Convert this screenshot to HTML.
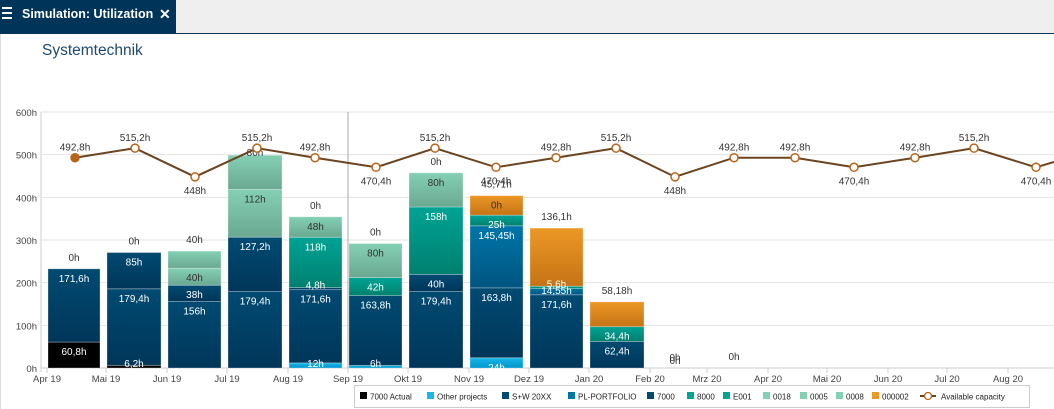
<!DOCTYPE html>
<html><head><meta charset="utf-8"><style>
body{margin:0;width:1054px;height:409px;overflow:hidden;background:#fff;font-family:"Liberation Sans",sans-serif}
</style></head><body>
<svg id="s" width="1054" height="409" xmlns="http://www.w3.org/2000/svg" style="position:absolute;left:0;top:0">
<defs>
<linearGradient id="nv" x1="0" y1="0" x2="0" y2="1"><stop offset="0" stop-color="#004a72"/><stop offset="1" stop-color="#003659"/></linearGradient>
<linearGradient id="bl" x1="0" y1="0" x2="0" y2="1"><stop offset="0" stop-color="#0075a8"/><stop offset="1" stop-color="#00557f"/></linearGradient>
<linearGradient id="tl" x1="0" y1="0" x2="0" y2="1"><stop offset="0" stop-color="#00a394"/><stop offset="1" stop-color="#00806f"/></linearGradient>
<linearGradient id="lg" x1="0" y1="0" x2="0" y2="1"><stop offset="0" stop-color="#84d0b4"/><stop offset="1" stop-color="#6aa892"/></linearGradient>
<linearGradient id="or" x1="0" y1="0" x2="0" y2="1"><stop offset="0" stop-color="#ec9826"/><stop offset="1" stop-color="#c57315"/></linearGradient>
<linearGradient id="lb" x1="0" y1="0" x2="0" y2="1"><stop offset="0" stop-color="#1ab6e8"/><stop offset="1" stop-color="#0096cc"/></linearGradient>
</defs>
<rect x="0" y="0" width="1054" height="33" fill="#efefef"/>
<rect x="0" y="0" width="176" height="34" fill="#003459"/>
<rect x="0" y="33" width="1054" height="1" fill="#003459"/>
<g fill="#fff"><rect x="2" y="7" width="10" height="2"/><rect x="2" y="12" width="10" height="2"/><rect x="2" y="17" width="10" height="2"/></g>
<text x="22" y="18" fill="#fff" font-size="12.5" font-weight="bold">Simulation: Utilization</text>
<text x="159" y="19" fill="#fff" font-size="14" font-weight="bold">✕</text>
<rect x="0" y="34" width="1" height="375" fill="#ddd"/>
<text x="42" y="55" fill="#1f4a70" font-size="15.5">Systemtechnik</text>
<g id="g"></g>
</svg>
<script>
(function(){
const g=document.getElementById('g');let h='',lbl='';
const Y=v=>368-v*0.4267;
for(let v=0;v<=600;v+=100){h+=`<line x1="41" x2="1054" y1="${Y(v)}" y2="${Y(v)}" stroke="#e2e2e2"/>`;h+=`<text x="37" y="${Y(v)+4}" font-size="9.5" fill="#444" text-anchor="end">${v}h</text>`;}
h+=`<line x1="41" x2="41" y1="112" y2="372" stroke="#ccc"/><line x1="41" x2="1054" y1="368" y2="368" stroke="#ccc"/>`;
h+=`<line x1="348" x2="348" y1="112" y2="368" stroke="#aaa"/>`;
const T=[47,106,167,227,288,348,408,469,529,589,650,707,768,827,888,947,1008,1068];
const L=['Apr 19','Mai 19','Jun 19','Jul 19','Aug 19','Sep 19','Okt 19','Nov 19','Dez 19','Jan 20','Feb 20','Mrz 20','Apr 20','Mai 20','Jun 20','Jul 20','Aug 20'];
L.forEach((l,i)=>{h+=`<line x1="${T[i]}" x2="${T[i]}" y1="368" y2="373" stroke="#ccc"/><text x="${T[i]}" y="382" font-size="9.5" fill="#444" text-anchor="middle">${l}</text>`});
const B=[
[[60.8,'#000','60,8h'],[171.6,'url(#nv)','171,6h']],
[[6.2,'#000','6,2h'],[179.4,'url(#nv)','179,4h'],[85,'url(#nv)','85h']],
[[156,'url(#nv)','156h'],[38,'url(#nv)','38h'],[40,'url(#lg)','40h'],[40,'url(#lg)','']],
[[179.4,'url(#nv)','179,4h'],[127.2,'url(#nv)','127,2h'],[112,'url(#lg)','112h'],[80,'url(#lg)','']],
[[12,'url(#lb)','12h'],[171.6,'url(#nv)','171,6h'],[4.8,'url(#nv)','4,8h'],[118,'url(#tl)','118h'],[48,'url(#lg)','48h']],
[[6,'url(#lb)','6h'],[163.8,'url(#nv)','163,8h'],[42,'url(#tl)','42h'],[80,'url(#lg)','80h']],
[[179.4,'url(#nv)','179,4h'],[40,'url(#nv)','40h'],[158,'url(#tl)','158h'],[80,'url(#lg)','80h']],
[[24,'url(#lb)','24h'],[163.8,'url(#nv)','163,8h'],[145.45,'url(#bl)','145,45h'],[25,'url(#tl)','25h'],[45.71,'url(#or)','0h']],
[[171.6,'url(#nv)','171,6h'],[14.55,'url(#bl)','14,55h'],[5.6,'url(#tl)','5,6h'],[136.1,'url(#or)','']],
[[62.4,'url(#nv)','62,4h'],[34.4,'url(#tl)','34,4h'],[58.18,'url(#or)','']]];
const tops=['0h','0h','40h','80h','0h','0h','0h','45,71h','136,1h','58,18h'];
B.forEach((b,i)=>{let x=T[i]+1,w=T[i+1]-T[i]-7,c=0;
b.forEach(s=>{let y1=Y(c+s[0]),y0=Y(c);h+=`<rect x="${x}" y="${y1}" width="${w}" height="${y0-y1}" fill="${s[1]}" stroke="rgba(255,255,255,0.35)" stroke-width="0.8"/>`;
if(s[2])lbl+=`<text x="${x+w/2}" y="${s[0]<15?y0-1:y1+13}" font-size="10" fill="${s[1]=='url(#lg)'||s[1]=='url(#or)'?'#333':'#fff'}" text-anchor="middle">${s[2]}</text>`;c+=s[0];});
let ty=i==3?Y(c)+1:Y(c)-8;lbl+=`<text x="${x+w/2}" y="${ty}" font-size="10" fill="#333" text-anchor="middle">${tops[i]}</text>`;});
h+=lbl;
h+=`<text x="675" y="361" font-size="10" fill="#333" text-anchor="middle">0h</text><text x="675" y="364" font-size="10" fill="#333" text-anchor="middle">0h</text><text x="734" y="360" font-size="10" fill="#333" text-anchor="middle">0h</text>`;
const C=[492.8,515.2,448,515.2,492.8,470.4,515.2,470.4,492.8,515.2,448,492.8,492.8,470.4,492.8,515.2,470.4];
const P=[75,135,195,257,315,376,435,496,556,616,675,734,795,854,915,974,1036];
let d='M'+P.map((x,i)=>x+','+Y(C[i])).join(' L')+' L1054,'+(Y(483));
h+=`<path d="${d}" fill="none" stroke="#6b4420" stroke-width="2"/>`;
P.forEach((x,i)=>{let y=Y(C[i]);h+=`<circle cx="${x}" cy="${y}" r="4" fill="${i?'#fff':'#b8651a'}" stroke="#b8651a" stroke-width="1.5"/>`;
let below=C[i]<480;h+=`<text x="${x}" y="${below?y+17:y-7}" font-size="10" fill="#333" text-anchor="middle">${C[i].toString().replace('.',',')}h</text>`;});
h+=`<rect x="354.5" y="385.5" width="675" height="22" fill="#fff" stroke="#ccc"/>`;
const LG=[['7000 Actual','#000'],['Other projects','#1ab6e8'],['S+W 20XX','#004a72'],['PL-PORTFOLIO','#0075a8'],['7000','#004a72'],['8000','#00a394'],['E001','#00a394'],['0018','#84d0b4'],['0005','#84d0b4'],['0008','#84d0b4'],['000002','#ec9826']];
const LX=[360,427,502,568,647,687,723,763,800,836,872];
LG.forEach((l,i)=>{let lx=LX[i];h+=`<rect x="${lx}" y="392" width="7" height="7" fill="${l[1]}"/><text x="${lx+10}" y="399.5" font-size="8" fill="#222">${l[0]}</text>`;});
let lx=920;
h+=`<line x1="${lx}" x2="${lx+16}" y1="396" y2="396" stroke="#6b4420" stroke-width="2"/><circle cx="${lx+8}" cy="396" r="3.5" fill="#fff" stroke="#b8651a" stroke-width="1.3"/><text x="${lx+21}" y="399.5" font-size="8" fill="#222">Available capacity</text>`;
g.innerHTML=h;
})();
</script>
</body></html>
